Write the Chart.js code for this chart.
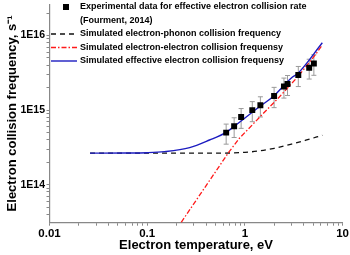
<!DOCTYPE html>
<html><head><meta charset="utf-8">
<script src="https://cdn.jsdelivr.net/npm/chart.js@4/dist/chart.umd.min.js"></script>
<style>html,body{margin:0;padding:0;background:#fff}#wrap{width:350px;height:255px;position:relative}</style>
</head><body><div id="wrap"><canvas id="c"></canvas></div>
<script>
// ---- data ----
const expT   = [0.643, 0.776, 0.915, 1.19, 1.44, 1.99, 2.51, 2.73, 3.52, 4.55, 5.08];
const expNu  = [5.0e14, 6.1e14, 8.1e14, 1.0e15, 1.16e15, 1.55e15, 2.07e15, 2.24e15, 2.96e15, 3.71e15, 4.23e15];
const expErr = [1.5e14, 1.8e14, 2.4e14, 3.0e14, 3.5e14, 4.7e14, 6.2e14, 6.7e14, 8.9e14, 1.1e15, 1.3e15];

const phononT  = [0.026, 0.5, 1.0, 1.4, 2.0, 3.0, 4.2, 6.2];
const phononNu = [2.65e14, 2.65e14, 2.72e14, 2.84e14, 3.08e14, 3.5e14, 3.95e14, 4.6e14];

const eeT  = [0.223, 0.684, 0.879, 1.41, 2.25, 3.46, 5.3, 6.2];
const eeNu = [3.14e13, 2.73e14, 4.2e14, 8.0e14, 1.5e15, 2.78e15, 5.6e15, 7.5e15];

const effT  = [0.026, 0.06, 0.1, 0.15, 0.272, 0.434, 0.643, 0.781, 1.41, 1.92, 3.07, 3.46, 6.2];
const effNu = [2.65e14, 2.66e14, 2.69e14, 2.78e14, 3.15e14, 3.98e14, 5.04e14, 6.1e14, 1.11e15, 1.5e15, 2.78e15, 3.08e15, 8.0e15];

const seriesLabels = [
  'Experimental data for effective electron collision rate\n(Fourment, 2014)',
  'Simulated electron-phonon collision frequency',
  'Simulated electron-electron collision frequensy',
  'Simulated effective electron collision frequensy'
];
const xTickLabels = ['0.01', '0.1', '1', '10'];
const yTickLabels = ['1E14', '1E15', '1E16'];
const xTitle = 'Electron temperature, eV';
const yTitle = 'Electron collision frequency, s\u207B\u00B9';

const FONT = '"Liberation Sans", Arial, sans-serif';
const toXY = (xs, ys) => xs.map((x, i) => ({x, y: ys[i]}));

function logTicks(min, max) {
  const out = [];
  for (let e = Math.floor(Math.log10(min)); e <= Math.ceil(Math.log10(max)); e++) {
    for (let m = 1; m <= 9; m++) {
      const v = m * Math.pow(10, e);
      if (v >= min * 0.999 && v <= max * 1.001) out.push({value: v});
    }
  }
  return out;
}
function labelFor(list, v) {
  for (const s of list) { const n = Number(s); if (Math.abs(n - v) / n < 1e-6) return s; }
  return '';
}

const errorBars = {
  id: 'errorBars',
  beforeDatasetsDraw(chart) {
    const ctx = chart.ctx, xs = chart.scales.x, ys = chart.scales.y;
    ctx.save();
    ctx.strokeStyle = '#9a9a9a'; ctx.lineWidth = 1;
    expT.forEach((t, i) => {
      const px = xs.getPixelForValue(t);
      const pTop = ys.getPixelForValue(expNu[i] + expErr[i]);
      const pBot = ys.getPixelForValue(expNu[i] - expErr[i]);
      ctx.beginPath();
      ctx.moveTo(px, pTop); ctx.lineTo(px, pBot);
      ctx.moveTo(px - 2.5, pTop); ctx.lineTo(px + 2.5, pTop);
      ctx.moveTo(px - 2.5, pBot); ctx.lineTo(px + 2.5, pBot);
      ctx.stroke();
    });
    ctx.restore();
  }
};

const legend = {
  id: 'customLegend',
  afterDraw(chart) {
    const ctx = chart.ctx;
    ctx.save();
    ctx.font = 'bold 9px ' + FONT;
    ctx.textBaseline = 'middle';
    ctx.fillStyle = '#000';
    const x0 = 51, x1 = 77, tx = 80, step = 13.5;
    let y = 7;
    chart.data.datasets.forEach(ds => {
      if (ds.showLine) {
        ctx.save();
        ctx.strokeStyle = ds.borderColor; ctx.lineWidth = ds.borderWidth;
        ctx.setLineDash(ds.borderDash || []);
        ctx.beginPath(); ctx.moveTo(x0, y); ctx.lineTo(x1, y); ctx.stroke();
        ctx.restore();
      } else {
        ctx.fillStyle = ds.backgroundColor;
        ctx.fillRect(63, y - 3, 6, 6);
        ctx.fillStyle = '#000';
      }
      ds.label.split('\n').forEach(line => {
        ctx.fillText(line, tx, y);
        y += step;
      });
    });
    ctx.restore();
  }
};

new Chart(document.getElementById('c'), {
  type: 'scatter',
  data: {
    datasets: [
      { label: seriesLabels[0], data: toXY(expT, expNu), showLine: false,
        pointStyle: 'rect', pointRadius: 4.2, backgroundColor: '#000', borderColor: '#000', borderWidth: 0, order: 0 },
      { label: seriesLabels[1], data: toXY(phononT, phononNu), showLine: true, pointRadius: 0,
        borderColor: '#111', borderWidth: 1.3, borderDash: [5, 4], cubicInterpolationMode: 'monotone', order: 3 },
      { label: seriesLabels[2], data: toXY(eeT, eeNu), showLine: true, pointRadius: 0,
        borderColor: '#ff1a1a', borderWidth: 1.3, borderDash: [5, 2, 1.5, 2], order: 2 },
      { label: seriesLabels[3], data: toXY(effT, effNu), showLine: true, pointRadius: 0,
        borderColor: '#1c1cc0', borderWidth: 1.4, cubicInterpolationMode: 'monotone', order: 1 }
    ]
  },
  options: {
    responsive: true, maintainAspectRatio: false, animation: false,
    layout: { padding: 0 },
    plugins: { legend: { display: false }, tooltip: { enabled: false } },
    scales: {
      x: {
        type: 'logarithmic', min: 0.01, max: 10,
        afterBuildTicks: s => { s.ticks = logTicks(0.01, 10); },
        afterFit: s => { s.height = 32.3; },
        grid: { drawOnChartArea: false, tickLength: 3, color: '#888', tickColor: '#888' },
        border: { color: '#888', width: 1.2 },
        ticks: { autoSkip: false, maxRotation: 0, padding: 1, color: '#000',
          font: { family: FONT, size: 11.5, weight: 'bold' },
          callback: v => labelFor(xTickLabels, v) },
        title: { display: true, text: xTitle, color: '#000', padding: { top: 0, bottom: 2 },
          font: { family: FONT, size: 13, weight: 'bold' } }
      },
      y: {
        type: 'logarithmic', min: 3.1e13, max: 2.63e16,
        afterBuildTicks: s => { s.ticks = logTicks(3.1e13, 2.63e16); },
        afterFit: s => { s.width = 49.5; s.paddingTop = 0; s.paddingBottom = 0; },
        grid: { drawOnChartArea: false, tickLength: 3, color: '#888', tickColor: '#888' },
        border: { color: '#888', width: 1.2 },
        ticks: { autoSkip: false, padding: 1.5, color: '#000',
          font: { family: FONT, size: 10.5, weight: 'bold' },
          callback: v => labelFor(yTickLabels, v) },
        title: { display: true, text: yTitle, color: '#000', padding: { top: 5, bottom: 0 },
          font: { family: FONT, size: 13, weight: 'bold' } }
      }
    }
  },
  plugins: [errorBars, legend]
});
</script>
</body></html>
